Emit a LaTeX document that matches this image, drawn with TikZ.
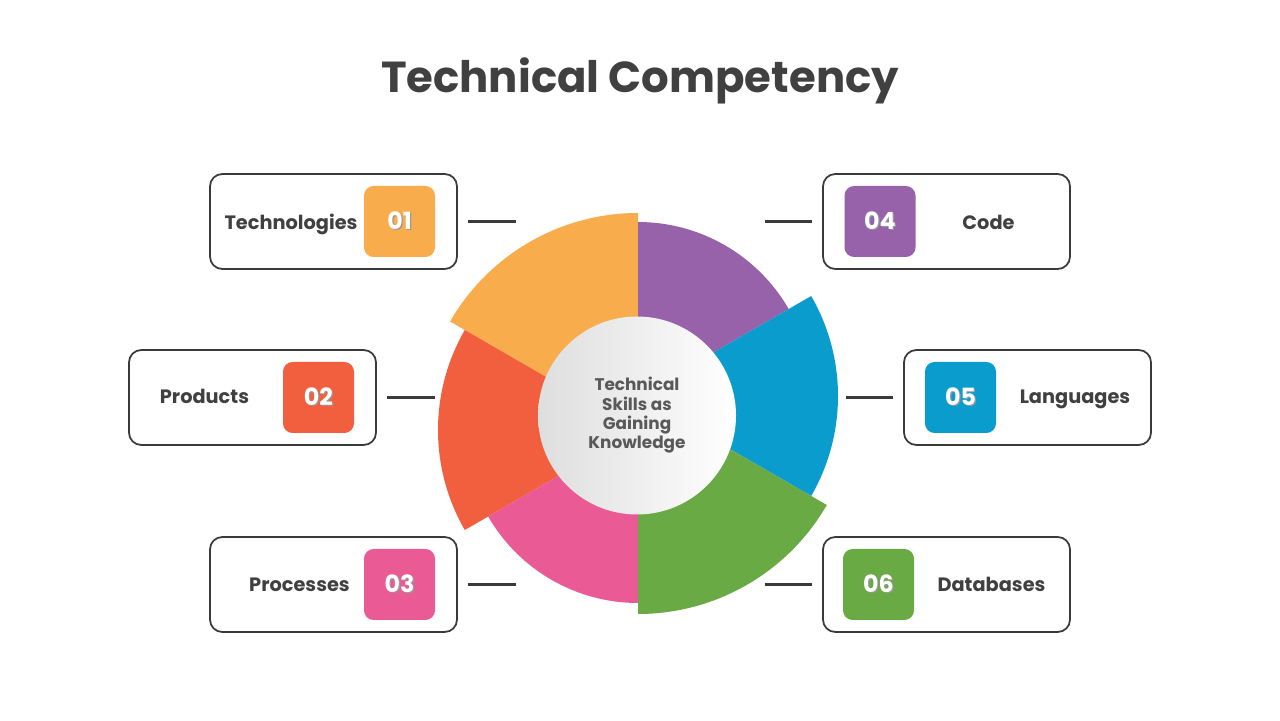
\documentclass[tikz,border=0pt]{standalone}
\usepackage{fontspec}
\setmainfont{Poppins}
\usepackage{xcolor}
\usepackage{tikz}
\usetikzlibrary{positioning,calc}

\definecolor{cOrange}{HTML}{F9AC4B}
\definecolor{cRed}{HTML}{F15F3F}
\definecolor{cPink}{HTML}{EA5A95}
\definecolor{cPurple}{HTML}{9762A9}
\definecolor{cBlue}{HTML}{0B9CCE}
\definecolor{cGreen}{HTML}{69AA44}
\definecolor{cLine}{HTML}{3A3A3A}
\definecolor{cText}{HTML}{404040}
\definecolor{cCore}{HTML}{595959}

% number with a soft drop shadow
\newcommand{\badgenum}[1]{\makebox[0pt][l]{\hspace{0.7pt}\raisebox{-0.7pt}{\color{black!40}#1}}#1}

\begin{document}
\begin{tikzpicture}[
  box/.style={draw=cLine,line width=1pt,rounded corners=7pt,fill=white,
    minimum width=4.94cm,minimum height=1.9cm},
  badge/.style={rounded corners=5.5pt,minimum size=1.42cm,inner sep=0pt,
    text=white,font=\bfseries\fontsize{13.5}{15}\selectfont},
  lbl/.style={anchor=base,inner sep=0pt,text=cText,font=\bfseries\fontsize{11}{13}\selectfont},
  link/.style={draw=cLine,line width=1.4pt,shorten <=0.2cm}]
 \fill[white] (0,0) rectangle (25.6,14.4);
 \useasboundingbox (0,0) rectangle (25.6,14.4);
 \node[anchor=base,text=cText,font=\bfseries\fontsize{24.7}{28}\selectfont] (title)
   at (12.8,12.55) {Technical Competency};
 % wheel
 \coordinate (L) at (12.76,5.80);
 \coordinate (R) at (12.76,6.48);
 \foreach \p/\a/\r/\c in {L/90/4.34/cOrange,L/150/4.00/cRed,L/210/3.46/cPink,
                           R/30/3.48/cPurple,R/-30/4.00/cBlue,R/270/4.36/cGreen}
   \fill[\c] (\p) -- ++(\a:\r) arc[start angle=\a,delta angle=60,radius=\r] -- cycle;
 \node[circle,minimum size=3.96cm,inner sep=0pt,left color=black!13,right color=white,
   align=center,text=cCore,font=\bfseries\fontsize{9.6}{11}\selectfont] (core)
   at (12.74,6.09) {Technical\\Skills as\\Gaining\\Knowledge};
 % left column
 \node[box] (b1) at (6.67,9.97) {};
 \node[box] (b2) at (5.05,6.45) {};
 \node[box] (b3) at (6.67,2.71) {};
 \node[badge,fill=cOrange] (n1) at (7.99,9.97) {\badgenum{01}};
 \node[badge,fill=cRed] (n2) at (6.37,6.45) {\badgenum{02}};
 \node[badge,fill=cPink] (n3) at (7.99,2.71) {\badgenum{03}};
 \node[lbl] (l1) at (5.82,9.80) {Technologies};
 \node[lbl] (l2) at (4.09,6.32) {Products};
 \node[lbl] (l3) at (5.99,2.56) {Processes};
 % right column
 \node[box] (b4) at (18.93,9.97) {};
 \node[box] (b5) at (20.55,6.45) {};
 \node[box] (b6) at (18.93,2.71) {};
 \node[badge,fill=cPurple] (n4) at (17.60,9.97) {\badgenum{04}};
 \node[badge,fill=cBlue] (n5) at (19.21,6.45) {\badgenum{05}};
 \node[badge,fill=cGreen] (n6) at (17.57,2.71) {\badgenum{06}};
 \node[lbl] (l4) at (19.77,9.80) {Code};
 \node[lbl] (l5) at (21.50,6.32) {Languages};
 \node[lbl] (l6) at (19.83,2.56) {Databases};
 % short leader lines
 \coordinate (t1) at (10.32,9.97);
 \coordinate (t2) at (8.70,6.45);
 \coordinate (t3) at (10.32,2.71);
 \coordinate (t4) at (15.30,9.97);
 \coordinate (t5) at (16.92,6.45);
 \coordinate (t6) at (15.30,2.71);
 \foreach \a/\b in {b1/t1,b2/t2,b3/t3,b4/t4,b5/t5,b6/t6}
   \draw[link] (\a) -- (\b);
\end{tikzpicture}
\end{document}
